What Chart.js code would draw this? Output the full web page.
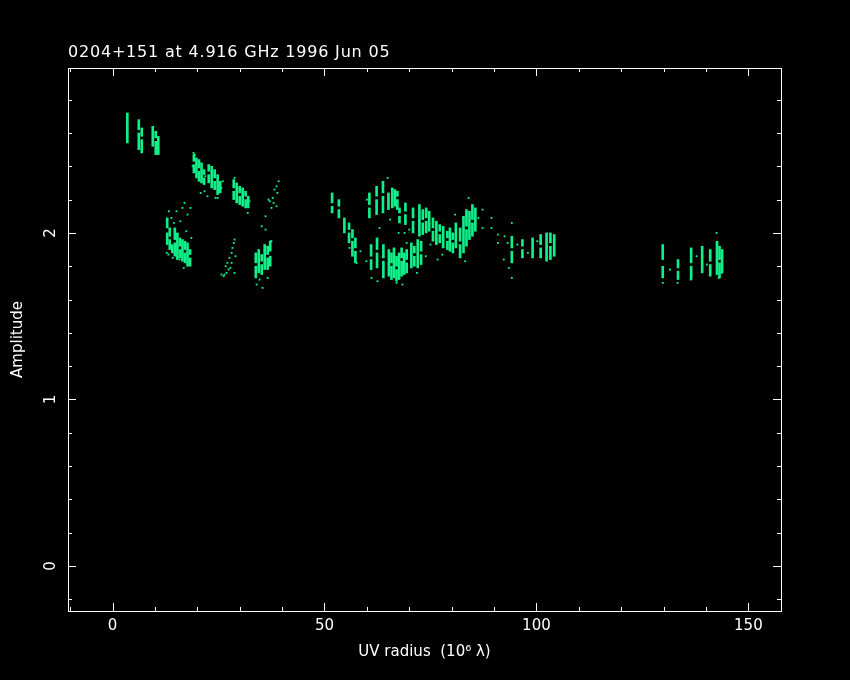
<!DOCTYPE html>
<html>
<head>
<meta charset="utf-8">
<script src="https://cdn.jsdelivr.net/npm/chart.js@4.4.0/dist/chart.umd.min.js"></script>
<style>
  body{margin:0;background:#000;}
</style>
</head>
<body>
<canvas id="grafico" width="850" height="680"></canvas>
<script>
// streaks: one UV radius per column, with its amplitude pieces [lo, hi]
const streakX = [3.5,6.2,6.9,9.5,10.2,10.8,
  19.2,19.8,20.4,21.0,21.6, 22.7,23.4,24.1,24.8,25.4, 28.6,29.3,30.0,30.7,31.4,32.0,
  12.9,13.5,14.1,14.7,15.3,15.9,16.5,17.1,17.7,18.3,
  33.8,34.5,35.2,35.9,36.6,37.2,
  51.8,53.4,54.7,55.8,56.6,57.3,
  60.6,62.3,63.8,65.1,66.0,66.6,67.2,67.7,69.1,70.9,72.4,73.2,
  61.0,62.4,63.9,65.2,65.8,66.4,67.0,67.6,68.2,68.8,69.4,70.5,71.2,72.0,72.8,
  74.0,74.7,75.6,76.4,77.2,78.0,79.0,79.6,80.3,81.0,82.0,82.8,83.5,84.2,84.9,85.6,
  94.2,96.7,99.1,101.0,102.4,103.3,104.2,
  129.8,133.4,136.5,139.1,141.0,142.6,143.2,143.8];
const streakRanges = [
  [[2.54,2.72]],[[2.50,2.60],[2.62,2.68]],[[2.48,2.56],[2.58,2.63]],[[2.52,2.64]],[[2.47,2.55],[2.57,2.61]],[[2.47,2.58]],
  [[2.36,2.41],[2.43,2.47]],[[2.33,2.45]],[[2.31,2.37],[2.39,2.44]],[[2.30,2.42]],[[2.29,2.33],[2.35,2.38]],
  [[2.30,2.35],[2.37,2.41]],[[2.27,2.40]],[[2.26,2.31],[2.33,2.38]],[[2.23,2.35]],[[2.24,2.31]],
  [[2.20,2.25],[2.27,2.32]],[[2.18,2.30]],[[2.17,2.22],[2.24,2.28]],[[2.16,2.27]],[[2.15,2.20],[2.22,2.25]],[[2.15,2.22]],
  [[1.93,2.00],[2.03,2.09]],[[1.90,1.96],[1.98,2.03]],[[1.88,1.93]],[[1.86,1.94],[1.96,2.03]],[[1.84,2.00]],
  [[1.85,1.90],[1.92,1.97]],[[1.83,1.96]],[[1.82,1.88],[1.90,1.95]],[[1.80,1.94]],[[1.80,1.85],[1.87,1.90]],
  [[1.73,1.80],[1.82,1.88]],[[1.76,1.90]],[[1.75,1.81],[1.83,1.87]],[[1.78,1.93]],[[1.78,1.85],[1.87,1.92]],[[1.80,1.86],[1.89,1.95]],
  [[2.12,2.16],[2.18,2.24]],[[2.09,2.14],[2.16,2.20]],[[2.00,2.09]],[[1.94,2.00],[2.02,2.06]],[[1.86,1.95],[1.97,2.02]],[[1.82,1.89],[1.91,1.97]],
  [[2.09,2.15],[2.17,2.24]],[[2.11,2.20],[2.22,2.28]],[[2.12,2.22],[2.24,2.31]],[[2.14,2.24]],[[2.15,2.27]],[[2.16,2.26]],
  [[2.14,2.20],[2.22,2.25]],[[2.06,2.10],[2.12,2.15]],[[2.05,2.11],[2.13,2.18]],[[2.00,2.07],[2.09,2.15]],[[1.98,2.17]],[[1.99,2.06],[2.08,2.14]],
  [[1.78,1.84],[1.86,1.93]],[[1.79,1.88],[1.90,1.97]],[[1.73,1.83],[1.85,1.93]],[[1.74,1.90]],[[1.72,1.80],[1.82,1.88]],
  [[1.73,1.91]],[[1.71,1.78],[1.80,1.86]],[[1.72,1.88]],[[1.74,1.83],[1.85,1.91]],[[1.75,1.88]],
  [[1.76,1.82],[1.84,1.90]],[[1.79,1.94]],[[1.80,1.86],[1.88,1.92]],[[1.79,1.96]],[[1.81,1.87],[1.89,1.95]],
  [[2.00,2.07],[2.09,2.15]],[[2.01,2.13]],[[1.95,2.01],[2.03,2.09]],[[1.93,2.07]],[[1.94,1.99],[2.01,2.05]],[[1.91,2.04]],
  [[1.90,1.95],[1.97,2.01]],[[1.89,2.03]],[[1.88,1.94],[1.96,2.00]],[[1.91,2.06]],[[1.85,1.93],[1.95,2.03]],[[1.88,2.10]],
  [[1.92,2.02],[2.04,2.14]],[[1.96,2.13]],[[1.98,2.06],[2.08,2.17]],[[2.01,2.15]],
  [[1.82,1.89],[1.91,1.98]],[[1.85,1.90],[1.92,1.96]],[[1.85,1.97]],[[1.85,1.91],[1.93,1.99]],[[1.83,2.00]],[[1.84,1.92],[1.94,2.00]],[[1.86,1.99]],
  [[1.73,1.80],[1.84,1.93]],[[1.72,1.77],[1.79,1.84]],[[1.72,1.80],[1.82,1.91]],[[1.76,1.92]],[[1.74,1.81],[1.83,1.90]],
  [[1.75,1.95]],[[1.73,1.82],[1.84,1.92]],[[1.76,1.90]]];

// loose points
const strayX = [19.1,20.8,22.4,24.8,31.9,36.1,35.2,36.1,37.3,
  38.7,39.2,38.2,38.9,37.8,37.1,38.0,38.7,37.5,36.8,
  17.0,16.5,18.4,15.1,17.7,13.9,13.2,15.8,18.2,16.8,
  28.6,28.3,28.1,29.0,27.6,27.1,28.1,26.7,27.8,27.4,26.4,26.2,26.9,25.7,28.8,28.8,
  37.5,35.4,34.7,34.0,36.6,
  64.9,61.1,62.5,67.0,68.4,68.9,67.5,69.4,55.9,57.6,
  84.0,87.3,89.4,89.4,87.3,90.9,92.5,90.9,93.2,92.3,94.2,93.5,94.2,76.7,
  142.5,129.8,133.3,136.4,143.0,143.7,
  19.4,21.7,28.8,24.3,18.9,21.9,25.7,26.0,32.3,
  13.3,14.5,16.0,17.4,18.6,12.8,14.2,
  59.9,60.0,58.5,63.0,65.5,71.8,73.9,70.0,
  77.8,80.8,83.2,86.3,75.0,
  95.5,98.0,100.2,131.5,137.8,140.2];
const strayY = [2.48,2.24,2.22,2.21,2.12,2.10,2.04,2.02,1.95,
  2.28,2.31,2.26,2.24,2.21,2.19,2.18,2.16,2.15,2.20,
  2.18,2.15,2.15,2.13,2.11,2.09,1.87,1.84,1.81,1.79,
  1.94,1.91,1.88,1.86,1.85,1.82,1.82,1.80,1.79,1.78,1.75,1.74,1.76,1.75,1.76,1.96,
  1.95,1.67,1.72,1.69,1.73,
  2.33,1.73,1.71,1.70,1.69,2.00,2.00,1.94,1.91,1.82,
  2.21,2.14,2.09,2.03,2.03,1.99,1.98,1.94,1.94,1.84,2.06,1.79,1.73,1.84,
  2.00,1.70,1.70,1.72,1.73,1.76,
  2.47,2.25,2.33,2.21,2.40,2.34,2.27,2.31,2.19,
  2.13,2.06,2.07,2.01,1.97,1.88,1.85,
  1.83,2.20,1.89,2.03,2.08,1.76,1.86,2.02,
  1.87,2.11,1.83,2.09,1.93,
  1.93,1.88,1.95,1.78,1.86,1.81];

const xMayores = [0,50,100,150];

const verde = '#10f088';
const blanco = '#ffffff';
const fuente = {family: 'DejaVu Sans', size: 15};

const barras = [];
streakX.forEach((x,i)=>{
  streakRanges[i].forEach(r=>barras.push({x: x, y: r}));
});
const puntos = strayX.map((x,i)=>({x: x, y: strayY[i]}));

const marco = {
  id: 'marco',
  beforeDraw(chart){
    const ctx = chart.ctx;
    ctx.save();
    ctx.fillStyle = '#000';
    ctx.fillRect(0,0,chart.width,chart.height);
    ctx.restore();
  },
  afterDraw(chart){
    const {ctx, chartArea: a, scales: {x, y}} = chart;
    ctx.save();
    ctx.strokeStyle = blanco;
    ctx.lineWidth = 1;
    ctx.strokeRect(a.left+0.5, a.top+0.5, a.right-a.left, a.bottom-a.top);
    ctx.beginPath();
    // x ticks, minor every 10
    for(let v=-10; v<=157; v+=10){
      const px = Math.round(x.getPixelForValue(v))+0.5;
      const len = xMayores.includes(v) ? 8 : 4;
      ctx.moveTo(px, a.bottom); ctx.lineTo(px, a.bottom-len);
      ctx.moveTo(px, a.top); ctx.lineTo(px, a.top+len);
    }
    // y ticks, minor every 0.2
    for(let k=-1; k<=14; k++){
      const py = Math.round(y.getPixelForValue(k/5))+0.5;
      const len = (k%5===0) ? 8 : 4;
      ctx.moveTo(a.left, py); ctx.lineTo(a.left+len, py);
      ctx.moveTo(a.right, py); ctx.lineTo(a.right-len, py);
    }
    ctx.stroke();
    // title
    ctx.fillStyle = blanco;
    ctx.font = '16px "DejaVu Sans"';
    ctx.letterSpacing = '0.8px';
    ctx.textAlign = 'left';
    ctx.textBaseline = 'alphabetic';
    ctx.fillText('0204+151 at 4.916 GHz 1996 Jun 05', a.left, 57);
    ctx.restore();
  }
};

new Chart(document.getElementById('grafico'), {
  type: 'bar',
  data: {
    datasets: [{
      type: 'bar',
      data: barras,
      backgroundColor: verde,
      borderWidth: 0,
      barThickness: 2,
      grouped: false
    },{
      type: 'scatter',
      data: puntos,
      backgroundColor: verde,
      borderWidth: 0,
      pointStyle: 'rect',
      pointRadius: 1.3
    }]
  },
  options: {
    responsive: false,
    devicePixelRatio: 1,
    animation: false,
    events: [],
    layout: {padding: {top: 68, right: 69, left: 0, bottom: 0}},
    plugins: {legend: {display: false}, tooltip: {enabled: false}},
    scales: {
      x: {
        type: 'linear', min: -10.5, max: 157.7, offset: false,
        afterFit: s => { s.height = 69; },
        grid: {display: false, drawTicks: false},
        border: {display: false},
        ticks: {stepSize: 50, includeBounds: false, color: blanco, font: fuente, padding: 6, maxRotation: 0},
        title: {display: true, text: 'UV radius  (10⁶ λ)', color: blanco, font: fuente, padding: {bottom: 19}}
      },
      y: {
        type: 'linear', min: -0.27, max: 2.99,
        afterFit: s => { s.width = 68; },
        grid: {display: false, drawTicks: false},
        border: {display: false},
        ticks: {stepSize: 1, includeBounds: false, color: blanco, font: fuente, padding: 12,
                minRotation: 90, maxRotation: 90, crossAlign: 'center'},
        title: {display: true, text: 'Amplitude', color: blanco, font: fuente, padding: {top: 9}}
      }
    }
  },
  plugins: [marco]
});
</script>
</body>
</html>
